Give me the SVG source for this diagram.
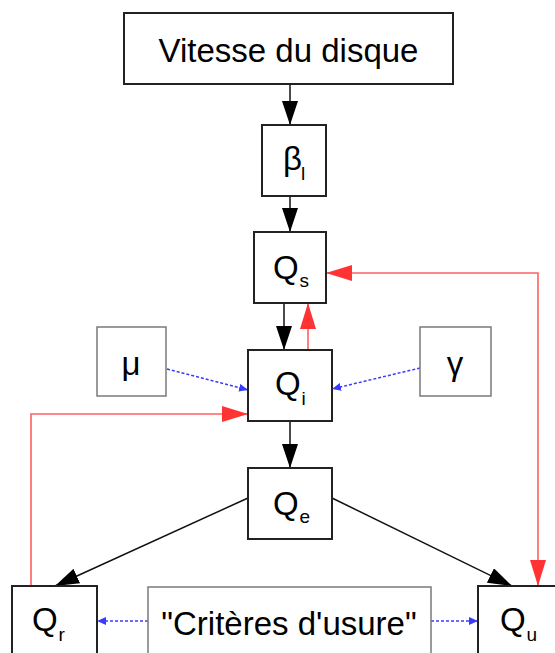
<svg xmlns="http://www.w3.org/2000/svg" width="555" height="653" viewBox="0 0 555 653">
  <style>
    .box { fill: #fff; stroke: #222; stroke-width: 2; }
    .gbox { fill: #fff; stroke: #7a7a7a; stroke-width: 1.5; }
    text { font-family: "Liberation Sans", Arial, sans-serif; fill: #000; }
    .big { font-size: 33px; }
    .sub { font-size: 19px; }
    .blk { stroke: #111; stroke-width: 1.5; fill: none; }
    .red { stroke: #ff6060; stroke-width: 1.6; fill: none; }
    .blue { stroke: #3a3aff; stroke-width: 1.5; fill: none; stroke-dasharray: 3 2; }
  </style>
  <defs>
    <marker id="ab" markerUnits="userSpaceOnUse" markerWidth="24" markerHeight="16" refX="24" refY="8" orient="auto">
      <path d="M0,0 L24,8 L0,16 z" fill="#000"/>
    </marker>
    <marker id="ar" markerUnits="userSpaceOnUse" markerWidth="26" markerHeight="16" refX="26" refY="8" orient="auto-start-reverse">
      <path d="M0,0 L26,8 L0,16 z" fill="#ff3333"/>
    </marker>
    <marker id="ablue" markerUnits="userSpaceOnUse" markerWidth="9" markerHeight="8" refX="9" refY="4" orient="auto">
      <path d="M0,0 L9,4 L0,8 z" fill="#3a3aff"/>
    </marker>
  </defs>

  <g id="connectors">
    <line class="blk" x1="290" y1="84" x2="290" y2="125" marker-end="url(#ab)"/>
    <line class="blk" x1="290" y1="196" x2="290" y2="232" marker-end="url(#ab)"/>
    <line class="blk" x1="284" y1="303" x2="284" y2="350" marker-end="url(#ab)"/>
    <line class="blk" x1="290" y1="421" x2="290" y2="468" marker-end="url(#ab)"/>
    <line class="blk" x1="248" y1="498" x2="55" y2="586" marker-end="url(#ab)"/>
    <line class="blk" x1="332" y1="498" x2="512" y2="586" marker-end="url(#ab)"/>
    <line class="red" x1="308" y1="350" x2="308" y2="303" marker-end="url(#ar)"/>
    <path class="red" d="M326,273 H538 V586" marker-start="url(#ar)" marker-end="url(#ar)"/>
    <path class="red" d="M31,586 V414 H248" marker-end="url(#ar)"/>
    <line class="blue" x1="167" y1="369" x2="248" y2="390" marker-end="url(#ablue)"/>
    <line class="blue" x1="420" y1="368" x2="332" y2="389" marker-end="url(#ablue)"/>
    <line class="blue" x1="148" y1="621" x2="97" y2="621" marker-end="url(#ablue)"/>
    <line class="blue" x1="431" y1="621" x2="478" y2="621" marker-end="url(#ablue)"/>
  </g>

  <g id="vitesse">
    <rect class="box" x="124" y="13" width="329" height="71"/>
    <text class="big" x="288.5" y="62" text-anchor="middle">Vitesse du disque</text>
  </g>
  <g id="beta">
    <rect class="box" x="262" y="125" width="64" height="71"/>
    <text class="big" x="283" y="170">β</text>
    <text class="sub" x="301" y="180">l</text>
  </g>
  <g id="Qs">
    <rect class="box" x="254" y="232" width="72" height="71"/>
    <text class="big" x="273" y="279">Q</text>
    <text class="sub" x="299.5" y="287">s</text>
  </g>
  <g id="mu">
    <rect class="gbox" x="97" y="327" width="69" height="69"/>
    <text class="big" x="131" y="375" text-anchor="middle">μ</text>
  </g>
  <g id="gamma">
    <rect class="gbox" x="420" y="327" width="71" height="69"/>
    <text class="big" x="455" y="375" text-anchor="middle">γ</text>
  </g>
  <g id="Qi">
    <rect class="box" x="248" y="350" width="84" height="71"/>
    <text class="big" x="275" y="395">Q</text>
    <text class="sub" x="301.5" y="405">i</text>
  </g>
  <g id="Qe">
    <rect class="box" x="248" y="468" width="84" height="71"/>
    <text class="big" x="273" y="515">Q</text>
    <text class="sub" x="299.5" y="523">e</text>
  </g>
  <g id="Qr">
    <rect class="box" x="12" y="586" width="85" height="80"/>
    <text class="big" x="32" y="631">Q</text>
    <text class="sub" x="58.5" y="641">r</text>
  </g>
  <g id="criteres">
    <rect class="gbox" x="148" y="587" width="283" height="80"/>
    <text class="big" x="289" y="635" text-anchor="middle">"Critères d'usure"</text>
  </g>
  <g id="Qu">
    <rect class="box" x="478" y="586" width="85" height="80"/>
    <text class="big" x="500" y="631">Q</text>
    <text class="sub" x="526.5" y="641">u</text>
  </g>
</svg>
